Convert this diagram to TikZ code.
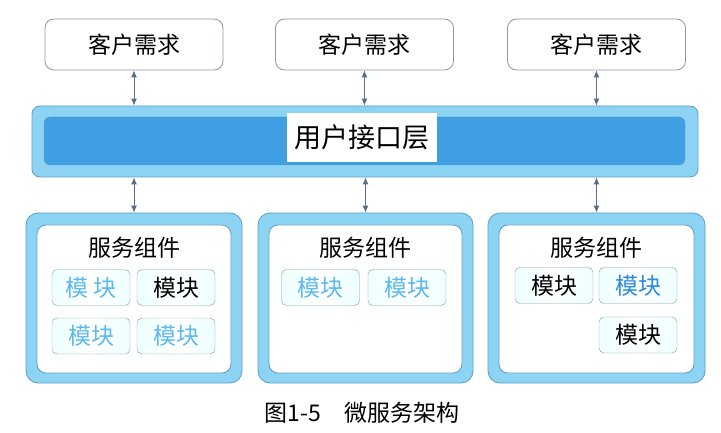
\documentclass[tikz,border=0pt]{standalone}
\usepackage{fontspec}
\usepackage{tikz}
\usepackage{xcolor}
\usetikzlibrary{arrows.meta}
\newfontfamily\cjk{Noto Sans CJK SC}
\definecolor{frameline}{HTML}{8A98A4}
\definecolor{bandline}{HTML}{5E9EC4}
\definecolor{bandlight}{HTML}{8DD4F4}
\definecolor{banddark}{HTML}{3F9FE2}
\definecolor{arrowblue}{HTML}{5A6E8C}
\definecolor{modlight}{HTML}{5CBAEE}
\definecolor{modmid}{HTML}{2B8ADF}

\begin{document}
\begin{tikzpicture}[x=1pt, y=1pt,
  client/.style={draw=frameline, thick, fill=white, rounded corners=9pt,
    minimum width=178pt, minimum height=51pt, font=\cjk\fontsize{23}{23}\selectfont},
  layer/.style={draw=bandline, thick, fill=bandlight, rounded corners=8pt},
  service/.style={draw=bandline, thick, fill=bandlight, rounded corners=12pt,
    minimum height=170pt},
  inner/.style={draw=bandline, thick, fill=white, rounded corners=9pt,
    minimum height=148pt},
  title/.style={font=\cjk\fontsize{23}{23}\selectfont},
  module/.style={draw=frameline, left color=cyan!7, right color=cyan!7,
    middle color=white, rounded corners=5pt, minimum width=78pt,
    minimum height=36pt, font=\cjk\fontsize{23}{23}\selectfont},
  link/.style={{Latex[length=7pt,width=6pt]}-{Latex[length=7pt,width=6pt]},
    draw=arrowblue, line width=0.9pt}
]
\useasboundingbox (0,0) rectangle (721,-433);

% client requests
\node[client] (c1) at (134,-44.5) {客户需求};
\node[client] (c2) at (364.5,-44.5) {客户需求};
\node[client] (c3) at (596.5,-44.5) {客户需求};

% user interface layer
\node[layer, minimum width=666pt, minimum height=71pt] (ui) at (365,-141.5) {};
\node[draw=bandline, fill=banddark, rounded corners=6pt, minimum width=641pt,
  minimum height=48pt] (uiin) at (364.5,-141) {};
\node[fill=white, minimum width=150pt, minimum height=49pt,
  font=\cjk\fontsize{27}{27}\selectfont] (uitxt) at (362,-137.5) {用户接口层};

% service components
\foreach \i/\x/\w in {1/134/216, 2/365.5/215, 3/596.5/217} {
  \node[service, minimum width=\w pt] (s\i) at (\x,-298) {};
  \node[inner, minimum width=\w pt-22pt] (s\i in) at (\x,-299) {};
  \node[title] (t\i) at (\x,-248) {服务组件};
}

% modules
\node[module, text=modlight] (m11) at (91,-287.5) {模 块};
\node[module] (m12) at (176,-287.5) {模块};
\node[module, text=modlight] (m13) at (91,-336) {模块};
\node[module, text=modlight] (m14) at (176,-336) {模块};
\node[module, text=modlight] (m21) at (320.5,-287.5) {模块};
\node[module, text=modlight] (m22) at (407,-287.5) {模块};
\node[module] (m31) at (554,-285.5) {模块};
\node[module, text=modmid] (m32) at (638,-285.5) {模块};
\node[module] (m33) at (638,-335) {模块};

% connectors
\foreach \i in {1,2,3} {
  \draw[link] (c\i.south) -- (c\i.south |- ui.north);
  \draw[link] (s\i.north |- ui.south) -- (s\i.north);
}

% caption
\node[title] (cap) at (362,-413) {图1-5\quad 微服务架构};
\end{tikzpicture}
\end{document}
